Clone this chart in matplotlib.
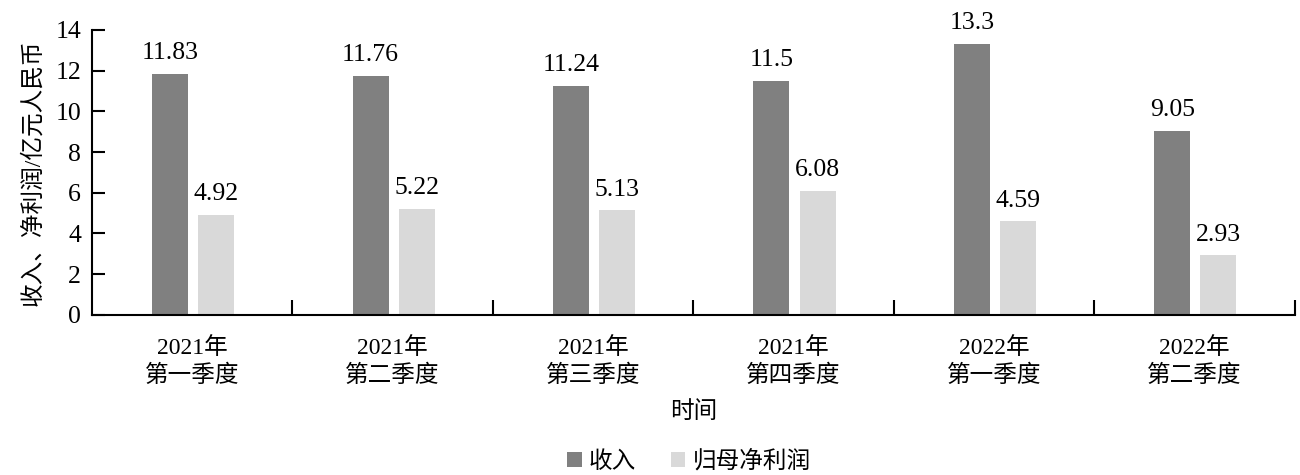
import matplotlib
matplotlib.use("Agg")
import matplotlib.pyplot as plt
import numpy as np

plt.rcParams['font.family'] = ['Liberation Serif', 'Noto Sans CJK SC']

categories = ["2021年\n第一季度", "2021年\n第二季度", "2021年\n第三季度",
              "2021年\n第四季度", "2022年\n第一季度", "2022年\n第二季度"]
revenue = [11.83, 11.76, 11.24, 11.5, 13.3, 9.05]
revenue_labels = ["11.83", "11.76", "11.24", "11.5", "13.3", "9.05"]
profit = [4.92, 5.22, 5.13, 6.08, 4.59, 2.93]
profit_labels = ["4.92", "5.22", "5.13", "6.08", "4.59", "2.93"]

fig = plt.figure(figsize=(13, 4.75), dpi=100)
ax = fig.add_axes([0.0708, 0.337, 0.925, 0.600])

x = np.arange(len(categories))
w = 0.18
b1 = ax.bar(x - 0.11, revenue, w, color='#808080', label='收入')
b2 = ax.bar(x + 0.12, profit, w, color='#d9d9d9', label='归母净利润')

for rect, lab in zip(b1, revenue_labels):
    ax.annotate(lab, (rect.get_x() + rect.get_width() / 2, rect.get_height()),
                xytext=(0, 7), textcoords='offset points', ha='center', va='bottom', fontsize=18.5)
for rect, lab in zip(b2, profit_labels):
    ax.annotate(lab, (rect.get_x() + rect.get_width() / 2, rect.get_height()),
                xytext=(0, 7), textcoords='offset points', ha='center', va='bottom', fontsize=18.5)

ax.set_xlim(-0.5, len(categories) - 0.5)
ax.set_ylim(0, 14)
ax.set_yticks(range(0, 15, 2))
ax.tick_params(axis='y', direction='in', length=9, width=1.5, labelsize=18.5, pad=8)
ax.set_xticks(x)
ax.set_xticklabels(categories, fontsize=17, linespacing=1.35)
ax.tick_params(axis='x', length=0, pad=16)
ax.set_xticks(np.arange(0.5, len(categories), 1), minor=True)
ax.tick_params(axis='x', which='minor', direction='in', length=11, width=1.5)

for s in ['top', 'right']:
    ax.spines[s].set_visible(False)
for s in ['left', 'bottom']:
    ax.spines[s].set_linewidth(1.5)

ax.set_ylabel('收入、净利润/亿元人民币', fontsize=17, labelpad=8)
ax.set_xlabel('时间', fontsize=17, labelpad=10)

fig.legend(handles=[b1, b2], labels=['收入', '归母净利润'], loc='center',
           bbox_to_anchor=(0.53, 0.028), ncol=2, frameon=False, fontsize=17,
           handlelength=0.6, handleheight=0.6, handletextpad=0.3, columnspacing=1.5)

fig.savefig('out.png', dpi=100)
